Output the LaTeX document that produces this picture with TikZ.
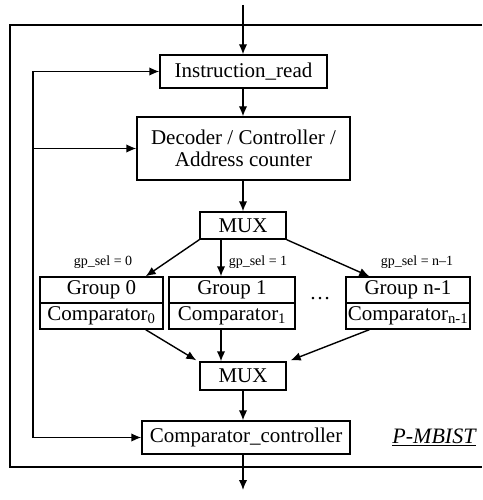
\documentclass[tikz,border=0pt]{standalone}
\usepackage{fontspec}
\setmainfont{Liberation Serif}
\usetikzlibrary{calc,arrows.meta}
\begin{document}
\begin{tikzpicture}[x=1pt,y=-1pt,
  box/.style={draw,line width=1.4pt,inner sep=0pt,align=center,
    font=\fontsize{21}{24}\selectfont},
  lbl/.style={inner sep=0pt,font=\fontsize{14}{16}\selectfont},
  wire/.style={line width=1.4pt},
  arr/.style={wire,-{Latex[length=10pt,width=8.5pt]}}]
\useasboundingbox (0,0) rectangle (482,500);

% enclosing P-MBIST frame (open to the right)
\draw[line width=1.6pt] (482,25) -- (10,25) -- (10,467) -- (482,467);

% main blocks
\node[box,minimum width=167pt,minimum height=33pt] (ir) at (243.5,71.5) {Instruction\_read};
\node[box,minimum width=213pt,minimum height=63pt] (dec) at (243.5,148.5)
  {Decoder / Controller /\\[-2pt]Address counter};
\node[box,minimum width=86pt,minimum height=27pt] (mux1) at (243,225.5) {MUX};

% groups with their comparators
\node[box,minimum width=123pt,minimum height=26pt] (g0t) at (101.5,290) {Group 0};
\node[box,minimum width=123pt,minimum height=26pt] (g0b) at (101.5,316) {Comparator\textsubscript{0}};
\node[box,minimum width=126pt,minimum height=26pt] (g1t) at (232,290) {Group 1};
\node[box,minimum width=126pt,minimum height=26pt] (g1b) at (232,316) {Comparator\textsubscript{1}};
\node[box,minimum width=124pt,minimum height=26pt] (gnt) at (408,290) {Group n-1};
\node[box,minimum width=124pt,minimum height=26pt] (gnb) at (408,316) {Comparator\textsubscript{n-1}};
\node[inner sep=0pt,font=\fontsize{21}{24}\selectfont] (dots) at (320,299) {\dots};

\node[box,minimum width=86pt,minimum height=28pt] (mux2) at (243,376) {MUX};
\node[box,minimum width=208pt,minimum height=33pt] (cc) at (246,437.5) {Comparator\_controller};

\node[inner sep=0pt,font=\fontsize{22}{24}\selectfont\itshape] (pm) at (434,437)
  {\underline{P-MBIST}};

% select labels
\node[lbl] (s0) at (103,262) {gp\_sel = 0};
\node[lbl] (s1) at (258,262) {gp\_sel = 1};
\node[lbl] (sn) at (417,262) {gp\_sel = n–1};

% input / output
\coordinate (in) at (243,5);
\coordinate (out) at (243,490);
\draw[arr] (in) -- (ir.north -| in);
\draw[arr] (ir.south -| in) -- (dec.north -| in);
\draw[arr] (dec.south -| in) -- (mux1.north -| in);
\draw[arr] (mux2.south -| in) -- (cc.north -| in);
\draw[arr] (cc.south -| in) -- (out);

% MUX fan-out to groups
\draw[arr] (mux1.south west) -- ($(g0t.north east)+(-18,0)$);
\draw[arr] ([xshift=-11pt]g1t.north |- mux1.south) -- ([xshift=-11pt]g1t.north);
\draw[arr] (mux1.south east) -- ($(gnt.north west)+(24,0)$);

% comparators into MUX
\draw[arr] ($(g0b.south east)+(-18,0)$) -- ($(mux2.north west)+(-3,-1)$);
\draw[arr] ([xshift=-11pt]g1b.south) -- ([xshift=-11pt]g1b.south |- mux2.north);
\draw[arr] ($(gnb.south west)+(24,0)$) -- ($(mux2.north east)+(4,-1)$);

% feedback bus on the left
\coordinate (fbT) at (33,71.5);
\coordinate (fbB) at (33,437.5);
\draw[wire] (fbT) -- (fbB);
\draw[arr] (fbT) -- (ir.west);
\draw[arr] (fbT |- dec.west) -- (dec.west);
\draw[arr] (fbB) -- (cc.west);
\end{tikzpicture}
\end{document}
